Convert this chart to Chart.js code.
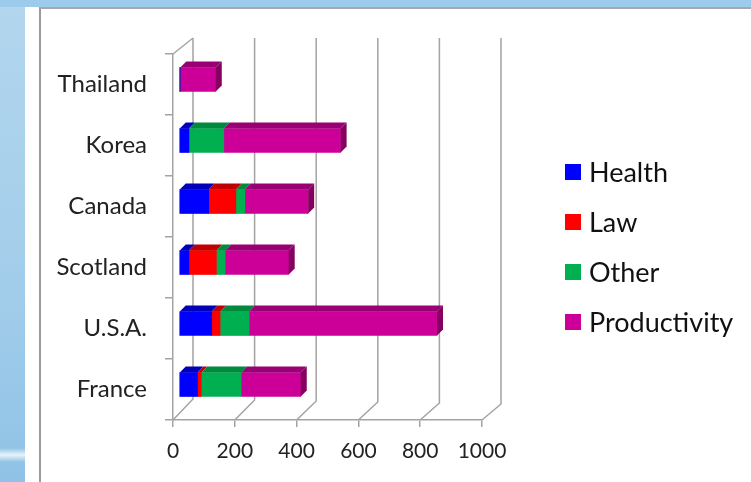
<!DOCTYPE html>
<html>
<head>
<meta charset="utf-8">
<script src="https://cdn.jsdelivr.net/npm/chart.js@4.4.1/dist/chart.umd.min.js"></script>
<style>
  html, body {
    margin: 0;
    padding: 0;
    width: 751px;
    height: 482px;
    overflow: hidden;
  }
  body {
    position: relative;
    background: linear-gradient(to bottom, #b3d6ee 0%, #a2cdea 60%, #8fc2e6 100%);
  }
  .topStrip {
    position: absolute;
    left: 0;
    top: 0;
    width: 751px;
    height: 7px;
    background: #9ccbec;
  }
  .swoosh {
    position: absolute;
    left: 0;
    top: 448px;
    width: 25px;
    height: 14px;
    background: linear-gradient(to bottom, rgba(255,255,255,0), rgba(255,255,255,0.8), rgba(255,255,255,0));
  }
  .slide {
    position: absolute;
    left: 25px;
    top: 7px;
    right: 0;
    bottom: 0;
    background: #ffffff;
  }
  .slideFrame {
    position: absolute;
    left: 39px;
    top: 7px;
    right: 0;
    bottom: 0;
    border-left: 2px solid #9a9a9a;
    border-top: 2px solid #a8a8a8;
  }
  #myChart {
    position: absolute;
    left: 0;
    top: 0;
  }
</style>
</head>
<body>
<div class="topStrip"></div>
<div class="swoosh"></div>
<div class="slide"></div>
<div class="slideFrame"></div>
<canvas id="myChart" width="751" height="482"></canvas>
<script>
const countries = ["Thailand", "Korea", "Canada", "Scotland", "U.S.A.", "France"];
const health = [4, 32, 96, 32, 106, 60];
const law = [0, 0, 88, 89, 27, 12];
const other = [0, 113, 29, 28, 94, 129];
const productivity = [115, 378, 205, 206, 608, 193];
const xTicks = [0, 200, 400, 600, 800, 1000];

const seriesNames = ["Health", "Law", "Other", "Productivity"];
const seriesColors = ["#0000ff", "#ff0000", "#00b050", "#cc0099"];
const topColors = ["#0000b8", "#c00000", "#008a3e", "#990073"];
const endColor = "#85005f";

const labelFont = "Lato, 'Open Sans', sans-serif";
const gridColor = "#a3a3a3";

// bars sit a little into the box, this is the shift of their front face
const barShift = { x: 6, y: -5 };
const barDepth = 6;

const wallPlugin = {
  id: "wall",
  beforeDatasetsDraw: (chart) => {
    const { ctx, chartArea } = chart;
    const xScale = chart.scales.x;
    const bottom = chartArea.bottom;
    const wallTop = 38;
    ctx.save();
    ctx.strokeStyle = gridColor;
    ctx.lineWidth = 1.5;
    xTicks.forEach((v) => {
      const xf = xScale.getPixelForValue(v);
      const dx = 20 - (v / 1000) * 1;
      const dy = 21 - (v / 1000) * 5;
      ctx.beginPath();
      ctx.moveTo(xf, bottom);
      ctx.lineTo(xf + dx, bottom - dy);
      ctx.lineTo(xf + dx, wallTop);
      ctx.stroke();
    });
    // top edge of the left wall
    const x0 = xScale.getPixelForValue(0);
    ctx.beginPath();
    ctx.moveTo(x0, chartArea.top);
    ctx.lineTo(x0 + 20, wallTop);
    ctx.stroke();
    ctx.restore();

    ctx.save();
    ctx.translate(barShift.x, barShift.y);
  },
  afterDatasetsDraw: (chart) => {
    const { ctx } = chart;
    const lastRight = {};
    chart.data.datasets.forEach((ds, di) => {
      const meta = chart.getDatasetMeta(di);
      meta.data.forEach((bar, i) => {
        const p = bar.getProps(["x", "y", "base", "height"], true);
        if (p.x - p.base < 0.5) return;
        const top = p.y - p.height / 2;
        ctx.fillStyle = topColors[di];
        ctx.beginPath();
        ctx.moveTo(p.base, top);
        ctx.lineTo(p.x, top);
        ctx.lineTo(p.x + barDepth, top - barDepth);
        ctx.lineTo(p.base + barDepth, top - barDepth);
        ctx.closePath();
        ctx.fill();
        if (!lastRight[i] || p.x >= lastRight[i].x) {
          lastRight[i] = p;
        }
      });
    });
    Object.values(lastRight).forEach((p) => {
      const top = p.y - p.height / 2;
      const bottom = p.y + p.height / 2;
      ctx.fillStyle = endColor;
      ctx.beginPath();
      ctx.moveTo(p.x, top);
      ctx.lineTo(p.x + barDepth, top - barDepth);
      ctx.lineTo(p.x + barDepth, bottom - barDepth);
      ctx.lineTo(p.x, bottom);
      ctx.closePath();
      ctx.fill();
    });
    ctx.restore();
  },
};

const legendPlugin = {
  id: "sideLegend",
  afterDraw: (chart) => {
    const { ctx } = chart;
    ctx.save();
    ctx.font = `27px ${labelFont}`;
    ctx.textBaseline = "middle";
    ctx.textAlign = "left";
    chart.data.datasets.forEach((ds, i) => {
      const cy = 172 + i * 50;
      ctx.fillStyle = ds.backgroundColor;
      ctx.fillRect(565, cy - 8, 16, 16);
      ctx.fillStyle = "#111111";
      ctx.fillText(ds.label, 589, cy + 1);
    });
    ctx.restore();
  },
};

const seriesData = [health, law, other, productivity];

const data = {
  labels: countries,
  datasets: seriesNames.map((name, i) => ({
    label: name,
    data: seriesData[i],
    backgroundColor: seriesColors[i],
    borderWidth: 0,
    barThickness: 24,
  })),
};

const config = {
  type: "bar",
  data: data,
  options: {
    indexAxis: "y",
    responsive: false,
    animation: false,
    devicePixelRatio: 1,
    layout: {
      padding: { top: 54, right: 269, left: 0, bottom: 0 },
    },
    plugins: {
      legend: { display: false },
      tooltip: { enabled: false },
    },
    scales: {
      x: {
        stacked: true,
        min: 0,
        max: 1000,
        afterBuildTicks: (scale) => {
          scale.ticks = xTicks.map((v) => ({ value: v }));
        },
        afterFit: (scale) => {
          scale.height = 62;
        },
        grid: {
          display: true,
          drawOnChartArea: false,
          drawTicks: true,
          tickLength: 7,
          color: gridColor,
          lineWidth: 1.5,
        },
        border: { display: true, color: gridColor, width: 1.5 },
        ticks: {
          padding: 12,
          color: "#222222",
          font: { family: labelFont, size: 21 },
          callback: (value) => `${value}`,
        },
      },
      y: {
        stacked: true,
        afterFit: (scale) => {
          scale.width = 173;
        },
        grid: {
          display: true,
          offset: true,
          drawOnChartArea: false,
          drawTicks: true,
          tickLength: 8,
          color: gridColor,
          lineWidth: 1.5,
        },
        border: { display: true, color: gridColor, width: 1.5 },
        ticks: {
          padding: 18,
          color: "#222222",
          font: { family: labelFont, size: 24 },
        },
      },
    },
  },
  plugins: [wallPlugin, legendPlugin],
};

const myChart = new Chart(document.getElementById("myChart"), config);
</script>
</body>
</html>
